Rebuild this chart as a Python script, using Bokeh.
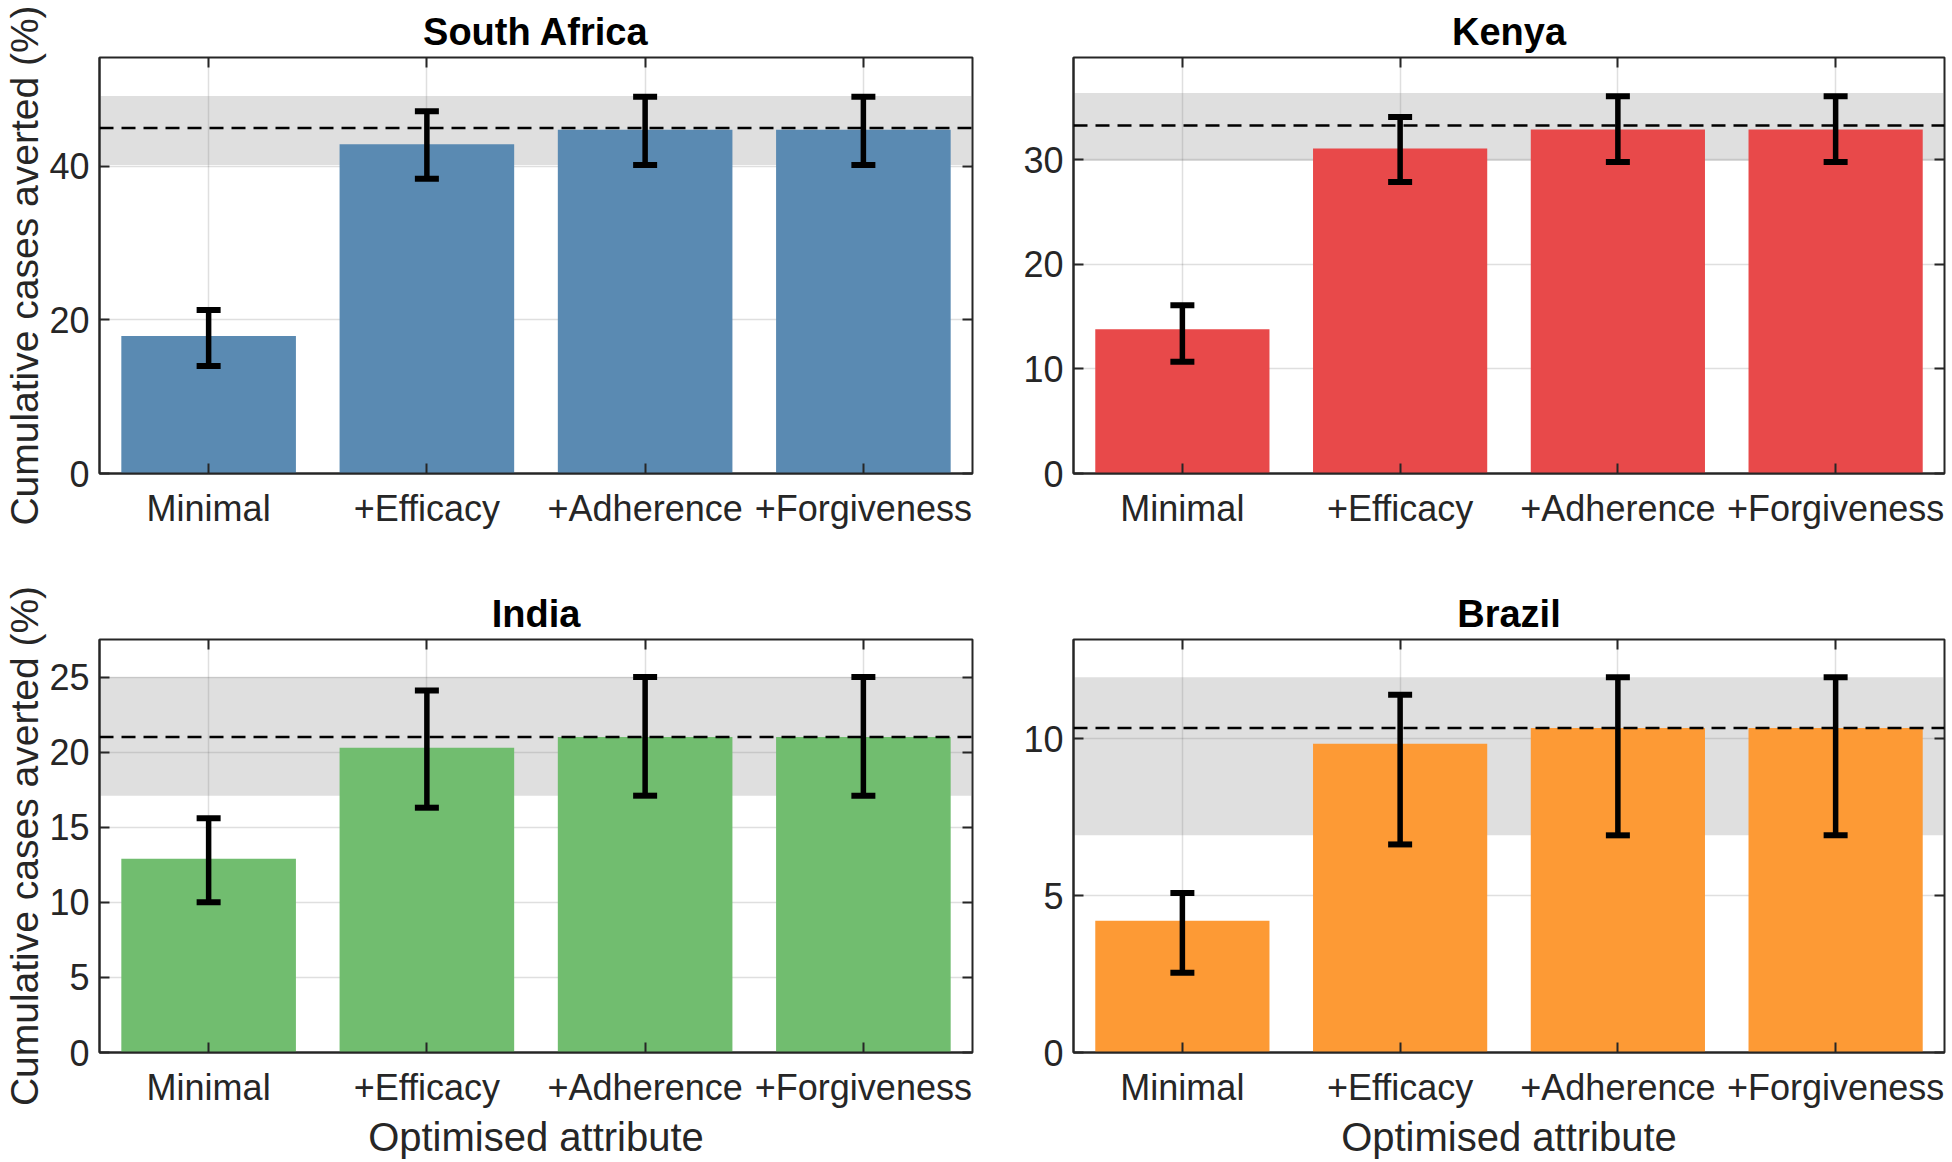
from bokeh.plotting import figure
from bokeh.models import (FactorRange, Range1d, ColumnDataSource, Whisker, TeeHead,
                          Span, BoxAnnotation, LinearAxis, CategoricalAxis, FixedTicker)
from bokeh.layouts import column, row
from bokeh.embed import file_html
from bokeh.resources import INLINE

categories = ["Minimal", "+Efficacy", "+Adherence", "+Forgiveness"]

# South Africa
sa_mean = [17.9, 42.9, 44.8, 44.8]
sa_lower = [14.0, 38.4, 40.2, 40.2]
sa_upper = [21.3, 47.2, 49.1, 49.1]
sa_ref = 45.0
sa_band = [40.2, 49.2]
sa_ticks = [0, 20, 40]
sa_ymax = 54.2

# Kenya
ke_mean = [13.8, 31.1, 32.9, 32.9]
ke_lower = [10.7, 27.9, 29.8, 29.8]
ke_upper = [16.1, 34.1, 36.1, 36.1]
ke_ref = 33.3
ke_band = [29.9, 36.4]
ke_ticks = [0, 10, 20, 30]
ke_ymax = 39.8

# India
in_mean = [12.9, 20.3, 21.0, 21.0]
in_lower = [10.0, 16.3, 17.1, 17.1]
in_upper = [15.6, 24.1, 25.0, 25.0]
in_ref = 21.0
in_band = [17.1, 25.0]
in_ticks = [0, 5, 10, 15, 20, 25]
in_ymax = 27.5

# Brazil
br_mean = [4.2, 9.84, 10.34, 10.34]
br_lower = [2.54, 6.63, 6.92, 6.92]
br_upper = [5.08, 11.40, 11.96, 11.96]
br_ref = 10.34
br_band = [6.92, 11.96]
br_ticks = [0, 5, 10]
br_ymax = 13.16

FONT = "Liberation Sans"
DARK = "#262626"


def panel(title, mean, lower, upper, ref, band, ticks, ymax, color,
          width, height, bl, br, bt, bb, ylabel=False, xlabel=False):
    p = figure(x_range=FactorRange(factors=categories, range_padding=0),
               y_range=Range1d(0, ymax), width=width, height=height,
               output_backend="svg", toolbar_location=None,
               min_border_left=bl, min_border_right=br,
               min_border_top=bt, min_border_bottom=bb)
    p.title.text = title
    p.title.align = "center"
    p.title.text_font = FONT
    p.title.text_font_size = "38px"
    p.title.text_font_style = "bold"
    p.title.text_color = "black"
    p.title.standoff = 10

    p.outline_line_color = DARK
    p.outline_line_width = 2
    p.outline_line_alpha = 1

    for g in (p.xgrid, p.ygrid):
        g.grid_line_color = DARK
        g.grid_line_alpha = 0.15
        g.grid_line_width = 1.5
    p.ygrid.ticker = FixedTicker(ticks=ticks)

    p.add_layout(BoxAnnotation(bottom=band[0], top=band[1], fill_color="#808080",
                               fill_alpha=0.25, line_alpha=0, level="underlay"))

    src = ColumnDataSource(dict(x=categories, top=mean, lower=lower, upper=upper))
    p.vbar(x="x", top="top", width=0.8, source=src, fill_color=color,
           line_color=None)

    p.add_layout(Whisker(source=src, base="x", lower="lower", upper="upper",
                         line_color="black", line_width=5.5, level="annotation",
                         upper_head=TeeHead(size=24, line_width=6, line_color="black"),
                         lower_head=TeeHead(size=24, line_width=6, line_color="black")))

    p.add_layout(Span(location=ref, dimension="width", line_color="black",
                      line_dash="14 8", line_width=2.5))

    yax = p.yaxis[0]
    yax.ticker = FixedTicker(ticks=ticks)
    xax = p.xaxis[0]
    for ax in (xax, yax):
        ax.axis_line_color = DARK
        ax.axis_line_width = 2
        ax.major_tick_line_color = DARK
        ax.major_tick_line_width = 2
        ax.major_tick_in = 10
        ax.major_tick_out = 0
        ax.minor_tick_line_color = None
        ax.major_label_text_font = FONT
        ax.major_label_text_font_size = "36px"
        ax.major_label_text_color = DARK
        ax.axis_label_text_font = FONT
        ax.axis_label_text_font_size = "40px"
        ax.axis_label_text_font_style = "normal"
        ax.axis_label_text_color = DARK
    yax.axis_label_text_font_size = "39px"
    xax.major_label_standoff = 14
    yax.major_label_standoff = 10
    xax.axis_label_standoff = 4
    yax.axis_label_standoff = 0
    if ylabel:
        yax.axis_label = "Cumulative cases averted (%)"
    if xlabel:
        xax.axis_label = "Optimised attribute"

    rax = LinearAxis(ticker=FixedTicker(ticks=ticks), major_label_text_font_size="1px",
                     major_label_text_color=None,
                     major_tick_in=10, major_tick_out=0, axis_line_color=None,
                     minor_tick_line_color=None, major_label_standoff=0,
                     major_tick_line_color=DARK, major_tick_line_width=2)
    p.add_layout(rax, "right")
    tax = CategoricalAxis(major_label_text_font_size="1px", major_label_text_color=None,
                          major_tick_in=10, major_tick_out=0, axis_line_color=None,
                          major_label_standoff=0, major_tick_line_color=DARK,
                          major_tick_line_width=2)
    p.add_layout(tax, "above")
    return p


W1, W2 = 1000, 948
H1, H2 = 575, 586
p1 = panel("South Africa", sa_mean, sa_lower, sa_upper, sa_ref, sa_band, sa_ticks,
           sa_ymax, "#5a8ab2", W1, H1, 98, 28, 57, 102, ylabel=True)
p2 = panel("Kenya", ke_mean, ke_lower, ke_upper, ke_ref, ke_band, ke_ticks,
           ke_ymax, "#e8494a", W2, H1, 73, 4, 57, 102)
p3 = panel("India", in_mean, in_lower, in_upper, in_ref, in_band, in_ticks,
           in_ymax, "#71bd6f", W1, H2, 98, 28, 64, 107, ylabel=True, xlabel=True)
p4 = panel("Brazil", br_mean, br_lower, br_upper, br_ref, br_band, br_ticks,
           br_ymax, "#fd9a35", W2, H2, 73, 4, 64, 107, xlabel=True)

layout = column(row(p1, p2, spacing=0), row(p3, p4, spacing=0), spacing=0)

with open("out.html", "w") as f:
    f.write(file_html(layout, INLINE))
